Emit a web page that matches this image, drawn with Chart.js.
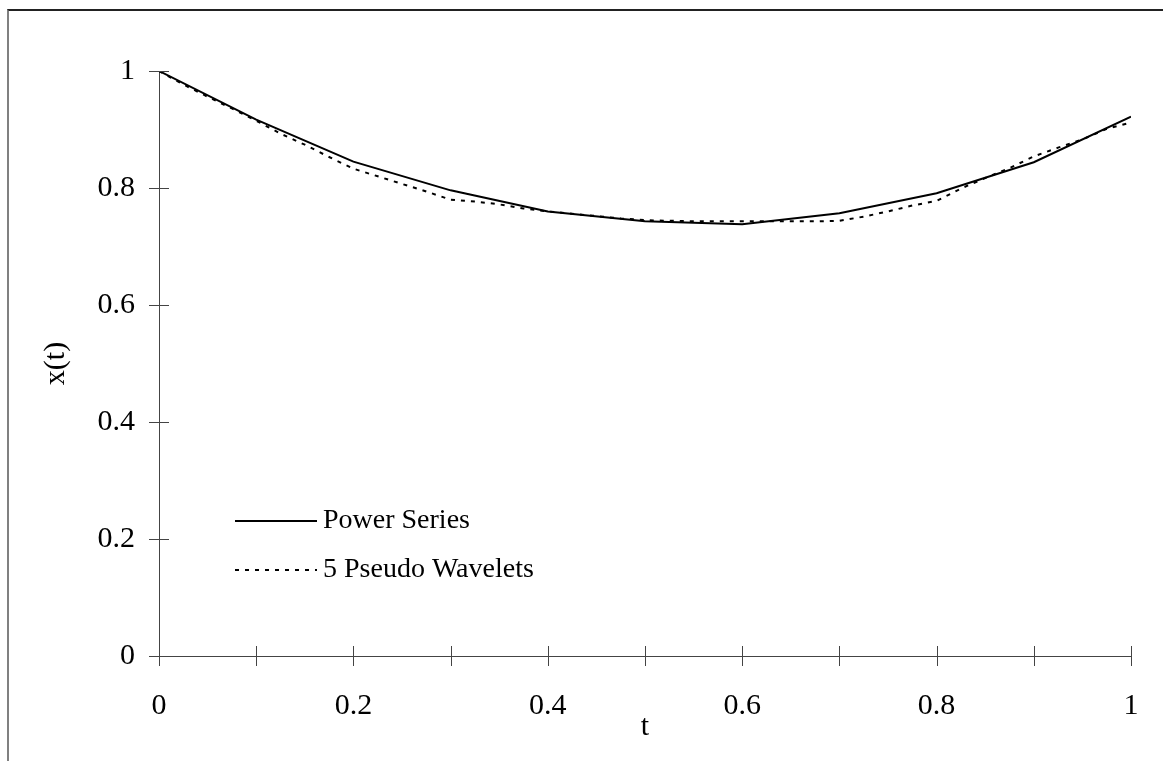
<!DOCTYPE html>
<html>
<head>
<meta charset="utf-8">
<script src="https://cdn.jsdelivr.net/npm/chart.js@4.4.1/dist/chart.umd.min.js"></script>
<style>
  body { margin: 0; background: #fff; }
  #frame { position: absolute; left: 7px; top: 9px; width: 1170px; height: 770px;
           border-top: 2px solid #222; border-left: 2px solid #808080; }
  #wrap { position: absolute; left: 0; top: 0; width: 1163px; height: 761px; }
</style>
</head>
<body>
<div id="frame"></div>
<div id="wrap"><canvas id="grafico"></canvas></div>
<script>
// datos
const tSerie = [0, 0.1, 0.2, 0.3, 0.4, 0.5, 0.6, 0.7, 0.8, 0.9, 1];
const powerSeries = [1.0, 0.917, 0.845, 0.796, 0.760, 0.743, 0.738, 0.757, 0.791, 0.844, 0.922];

const tWavelet = [0, 0.025, 0.05, 0.075, 0.1, 0.125, 0.15, 0.175, 0.2, 0.225, 0.25, 0.275, 0.3,
  0.325, 0.35, 0.375, 0.4, 0.425, 0.45, 0.475, 0.5, 0.525, 0.55, 0.575, 0.6, 0.625, 0.65,
  0.675, 0.7, 0.725, 0.75, 0.775, 0.8, 0.825, 0.85, 0.875, 0.9, 0.925, 0.95, 0.975, 1];
const pseudoWavelets = [1.0, 0.977, 0.956, 0.936, 0.915, 0.893, 0.874, 0.853, 0.833, 0.820, 0.807,
  0.794, 0.780, 0.777, 0.772, 0.765, 0.760, 0.756, 0.752, 0.748, 0.745, 0.744, 0.743, 0.743,
  0.743, 0.743, 0.743, 0.743, 0.744, 0.751, 0.760, 0.770, 0.778, 0.799, 0.817, 0.834, 0.854,
  0.869, 0.883, 0.901, 0.912];

const xMinorTicks = [0, 0.1, 0.2, 0.3, 0.4, 0.5, 0.6, 0.7, 0.8, 0.9, 1];
const yTicks = [0, 0.2, 0.4, 0.6, 0.8, 1];

const fuente = '"Liberation Serif", "Times New Roman", serif';
const etiqueta = v => String(Math.round(v * 10) / 10);

// marcas que cruzan los ejes
const marcas = {
  id: 'marcas',
  afterDraw(chart) {
    const c = chart.ctx, x = chart.scales.x, y = chart.scales.y;
    const x0 = x.getPixelForValue(0), y0 = y.getPixelForValue(0);
    c.save();
    c.strokeStyle = '#444';
    c.lineWidth = 1;
    c.beginPath();
    xMinorTicks.forEach(v => {
      const px = Math.round(x.getPixelForValue(v)) + 0.5;
      c.moveTo(px, y0 - 10); c.lineTo(px, y0 + 10);
    });
    yTicks.forEach(v => {
      const py = Math.round(y.getPixelForValue(v)) + 0.5;
      c.moveTo(x0 - 10, py); c.lineTo(x0 + 10, py);
    });
    c.stroke();

    // leyenda dentro del area
    c.font = '28px ' + fuente;
    c.fillStyle = '#000';
    c.textBaseline = 'middle';
    chart.data.datasets.forEach((ds, i) => {
      const ly = 521 + i * 49;
      c.beginPath();
      c.strokeStyle = '#000';
      c.lineWidth = 2;
      c.setLineDash(ds.borderDash || []);
      c.moveTo(235, ly); c.lineTo(317, ly);
      c.stroke();
      c.setLineDash([]);
      c.fillText(ds.label, 323, ly);
    });
    c.restore();
  }
};

const ctx = document.getElementById('grafico').getContext('2d');
new Chart(ctx, {
  type: 'line',
  data: {
    datasets: [{
      label: 'Power Series',
      data: tSerie.map((t, i) => ({ x: t, y: powerSeries[i] })),
      borderColor: '#000',
      borderWidth: 2,
      pointRadius: 0,
      tension: 0
    }, {
      label: '5 Pseudo Wavelets',
      data: tWavelet.map((t, i) => ({ x: t, y: pseudoWavelets[i] })),
      borderColor: '#000',
      borderWidth: 2,
      borderDash: [4, 6],
      pointRadius: 0,
      tension: 0
    }]
  },
  options: {
    responsive: true,
    maintainAspectRatio: false,
    animation: false,
    layout: { padding: { top: 71, right: 32, left: 0, bottom: 0 } },
    plugins: { legend: { display: false }, tooltip: { enabled: false } },
    scales: {
      x: {
        type: 'linear', min: 0, max: 1,
        afterFit: s => { s.height = 105; s.paddingLeft = 0; s.paddingRight = 0; },
        grid: { display: false, drawTicks: false },
        border: { display: true, color: '#444', width: 1 },
        ticks: { stepSize: 0.2, color: '#000', padding: 32, callback: etiqueta, font: { family: fuente, size: 30 } },
        title: { display: true, text: 't', color: '#000', padding: { bottom: 16 }, font: { family: fuente, size: 30 } }
      },
      y: {
        min: 0, max: 1,
        afterFit: s => { s.width = 159; s.paddingTop = 0; s.paddingBottom = 0; },
        grid: { display: false, drawTicks: false },
        border: { display: true, color: '#444', width: 1 },
        ticks: { stepSize: 0.2, color: '#000', padding: 24, callback: etiqueta, font: { family: fuente, size: 30 } },
        title: { display: true, text: 'x(t)', color: '#000', padding: { top: 38 }, font: { family: fuente, size: 30 } }
      }
    }
  },
  plugins: [marcas]
});
</script>
</body>
</html>
